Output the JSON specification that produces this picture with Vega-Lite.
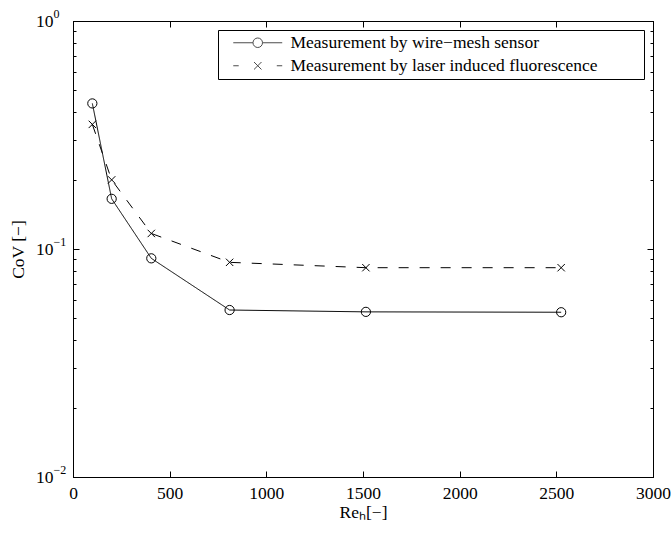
{
  "$schema": "https://vega.github.io/schema/vega-lite/v6.json",
  "width": 580,
  "height": 456,
  "autosize": {"type": "none"},
  "padding": {"left": 73, "top": 21, "right": 19, "bottom": 56},
  "background": "white",
  "config": {
    "view": {"stroke": "black", "strokeWidth": 1},
    "font": "Liberation Serif",
    "axis": {
      "grid": false,
      "domainColor": "black",
      "domainWidth": 1,
      "tickColor": "black",
      "tickWidth": 1,
      "labelColor": "black",
      "labelFont": "Liberation Serif",
      "labelFontSize": 17.5,
      "labelFlush": false,
      "labelOverlap": false,
      "labelBound": false,
      "titleFont": "Liberation Serif",
      "titleFontSize": 17.5,
      "titleFontWeight": "normal",
      "titleColor": "black"
    }
  },
  "datasets": {
    "cov": [
      {"series": "Measurement by wire−mesh sensor", "Re": 100, "CoV": 0.435},
      {"series": "Measurement by wire−mesh sensor", "Re": 200, "CoV": 0.166},
      {"series": "Measurement by wire−mesh sensor", "Re": 405, "CoV": 0.091},
      {"series": "Measurement by wire−mesh sensor", "Re": 810, "CoV": 0.054},
      {"series": "Measurement by wire−mesh sensor", "Re": 1515, "CoV": 0.053},
      {"series": "Measurement by wire−mesh sensor", "Re": 2525, "CoV": 0.0528},
      {"series": "Measurement by laser induced fluorescence", "Re": 100, "CoV": 0.352},
      {"series": "Measurement by laser induced fluorescence", "Re": 200, "CoV": 0.201},
      {"series": "Measurement by laser induced fluorescence", "Re": 405, "CoV": 0.117},
      {"series": "Measurement by laser induced fluorescence", "Re": 810, "CoV": 0.0874},
      {"series": "Measurement by laser induced fluorescence", "Re": 1515, "CoV": 0.0828},
      {"series": "Measurement by laser induced fluorescence", "Re": 2525, "CoV": 0.0828}
    ]
  },
  "data": {"name": "cov"},
  "layer": [
    {
      "mark": {"type": "line", "color": "black", "strokeWidth": 1},
      "encoding": {
        "x": {
          "field": "Re", "type": "quantitative",
          "scale": {"domain": [0, 3000], "nice": false},
          "axis": {"orient": "bottom", "values": [0, 500, 1000, 1500, 2000, 2500, 3000], "format": "d", "tickSize": -6, "labelPadding": 13, "title": "Reₕ[−]", "titlePadding": 2}
        },
        "y": {
          "field": "CoV", "type": "quantitative",
          "scale": {"type": "log", "domain": [0.01, 1], "nice": false},
          "axis": {"orient": "left", "values": [0.01, 0.1, 1], "tickSize": -6, "labelExpr": "'10'", "labelAlign": "right", "labelBaseline": "middle", "labelPadding": 26, "title": "CoV [−]", "titlePadding": 8}
        },
        "strokeDash": {
          "field": "series", "type": "nominal",
          "scale": {"domain": ["Measurement by wire−mesh sensor", "Measurement by laser induced fluorescence"], "range": [[1, 0], [10, 11]]},
          "legend": null
        }
      }
    },
    {
      "mark": {"type": "point", "filled": false, "color": "black", "strokeWidth": 1, "size": 85, "opacity": 1},
      "encoding": {
        "x": {
          "field": "Re", "type": "quantitative",
          "scale": {"domain": [0, 3000], "nice": false},
          "axis": {"orient": "top", "values": [0, 500, 1000, 1500, 2000, 2500, 3000], "tickSize": -6, "labels": false, "title": null}
        },
        "y": {
          "field": "CoV", "type": "quantitative",
          "scale": {"type": "log", "domain": [0.01, 1], "nice": false},
          "axis": {
            "orient": "left",
            "values": [0.01, 0.02, 0.03, 0.04, 0.05, 0.06, 0.07, 0.08, 0.09, 0.1, 0.2, 0.3, 0.4, 0.5, 0.6, 0.7, 0.8, 0.9, 1],
            "tickSize": -3, "domain": false, "title": null,
            "labelExpr": "abs(log(datum.value)/LN10 - round(log(datum.value)/LN10)) < 0.000001 ? (round(log(datum.value)/LN10) == 0 ? '0' : '\u2212' + abs(round(log(datum.value)/LN10))) : ''",
            "labelAlign": "left", "labelBaseline": "middle", "labelFontSize": 12, "labelOffset": -8, "labelPadding": 23
          }
        },
        "shape": {
          "field": "series", "type": "nominal",
          "scale": {"domain": ["Measurement by wire−mesh sensor", "Measurement by laser induced fluorescence"], "range": ["circle", "M-0.8,-0.8L0.8,0.8M-0.8,0.8L0.8,-0.8"]},
          "legend": null
        }
      }
    },
    {
      "transform": [{"filter": "false"}],
      "mark": {"type": "point", "filled": false, "color": "black", "strokeWidth": 1},
      "encoding": {
        "x": {"field": "Re", "type": "quantitative", "scale": {"domain": [0, 3000], "nice": false}, "axis": null},
        "y": {
          "field": "CoV", "type": "quantitative",
          "scale": {"type": "log", "domain": [0.01, 1], "nice": false},
          "axis": {"orient": "right", "values": [0.01, 0.1, 1], "tickSize": -6, "labels": false, "title": null}
        },
        "shape": {
          "field": "series", "type": "nominal",
          "scale": {
            "domain": ["Measurement by wire−mesh sensor", "Measurement by laser induced fluorescence"],
            "range": [
              "M-3.6,0H-0.7M0.7,0H3.6M0.7,0A0.7,0.7,0,1,1,-0.7,0A0.7,0.7,0,1,1,0.7,0",
              "M-3.6,0H-2.8M2.8,0H3.6M-0.55,-0.55L0.55,0.55M-0.55,0.55L0.55,-0.55"
            ]
          },
          "legend": {
            "orient": "top-right", "offset": 9, "padding": 4, "rowPadding": 4,
            "title": "MMMM", "titleOrient": "right", "titleFontSize": 10, "titleOpacity": 0, "titlePadding": 4, "titleLimit": 200,
            "strokeColor": "black", "fillColor": "white",
            "symbolSize": 185, "symbolOffset": 27, "labelOffset": 24,
            "symbolStrokeColor": "black", "symbolFillColor": "transparent", "symbolStrokeWidth": 1,
            "labelFont": "Liberation Serif", "labelFontSize": 17.5, "labelColor": "black", "labelLimit": 0
          }
        }
      }
    },
    {
      "transform": [{"filter": "false"}],
      "mark": {"type": "point", "opacity": 0},
      "encoding": {
        "x": {"field": "Re", "type": "quantitative", "scale": {"domain": [0, 3000], "nice": false}, "axis": null},
        "y": {
          "field": "CoV", "type": "quantitative",
          "scale": {"type": "log", "domain": [0.01, 1], "nice": false},
          "axis": {
            "orient": "right",
            "values": [0.01, 0.02, 0.03, 0.04, 0.05, 0.06, 0.07, 0.08, 0.09, 0.1, 0.2, 0.3, 0.4, 0.5, 0.6, 0.7, 0.8, 0.9, 1],
            "tickSize": -3, "domain": false, "labels": false, "title": null
          }
        }
      }
    }
  ],
  "resolve": {
    "axis": {"x": "independent", "y": "independent"},
    "scale": {"shape": "independent"}
  }
}
